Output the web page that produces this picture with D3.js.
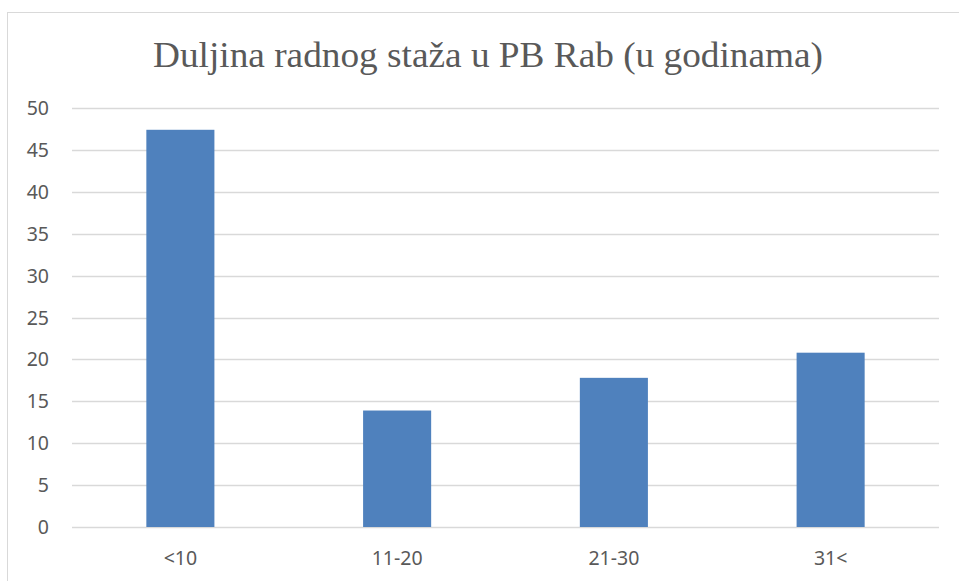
<!DOCTYPE html>
<html>
<head>
<meta charset="utf-8">
<script src="https://cdn.jsdelivr.net/npm/d3@7"></script>
<style>
  html, body { margin: 0; padding: 0; background: #fff; }
  svg { display: block; }
</style>
</head>
<body>
<div id="chart"></div>
<script>
// podaci
const categories = ["<10", "11-20", "21-30", "31<"];
const values = [47.4, 13.9, 17.8, 20.8];
const yTicks = [0, 5, 10, 15, 20, 25, 30, 35, 40, 45, 50];
const title = "Duljina radnog staža u PB Rab (u godinama)";

const width = 959, height = 581;
const margin = { top: 108, right: 20, bottom: 54, left: 72 };

const svg = d3.select("#chart").append("svg")
    .attr("width", width)
    .attr("height", height);

// okvir grafikona
svg.append("rect")
    .attr("x", 7.5).attr("y", 12.5)
    .attr("width", width + 10).attr("height", height + 10)
    .attr("fill", "#fff")
    .attr("stroke", "#d9d9d9")
    .attr("stroke-width", 1);

const x = d3.scaleBand()
    .domain(categories)
    .range([margin.left, 939])
    .paddingInner(0.686)
    .paddingOuter(0.343);

const y = d3.scaleLinear()
    .domain([0, 50])
    .range([527, 108]);

// mreža
svg.append("g")
    .selectAll("line")
    .data(yTicks)
    .join("line")
    .attr("x1", margin.left)
    .attr("x2", 939)
    .attr("y1", d => Math.round(y(d)) + 0.5)
    .attr("y2", d => Math.round(y(d)) + 0.5)
    .attr("stroke", "#d9d9d9")
    .attr("stroke-width", 1.3);

// stupci
svg.append("g")
    .selectAll("rect")
    .data(values)
    .join("rect")
    .attr("x", (d, i) => x(categories[i]))
    .attr("width", x.bandwidth())
    .attr("y", d => y(d))
    .attr("height", d => y(0) - y(d))
    .attr("fill", "#4f81bd");

// oznake osi y
svg.append("g")
    .attr("font-family", "Noto Sans, Open Sans, sans-serif")
    .attr("font-size", 19.5)
    .attr("fill", "#595959")
    .attr("text-anchor", "end")
    .selectAll("text")
    .data(yTicks)
    .join("text")
    .attr("x", 49)
    .attr("y", d => y(d))
    .attr("dy", "0.36em")
    .text(d => d);

// oznake osi x
svg.append("g")
    .attr("font-family", "Noto Sans, Open Sans, sans-serif")
    .attr("font-size", 19.5)
    .attr("fill", "#595959")
    .attr("text-anchor", "middle")
    .selectAll("text")
    .data(categories)
    .join("text")
    .attr("x", d => x(d) + x.bandwidth() / 2)
    .attr("y", 565)
    .text(d => d);

// naslov
svg.append("text")
    .attr("x", 488)
    .attr("y", 67)
    .attr("text-anchor", "middle")
    .attr("font-family", "Liberation Serif, Times New Roman, serif")
    .attr("font-size", 36)
    .attr("fill", "#595959")
    .attr("textLength", 670)
    .attr("lengthAdjust", "spacingAndGlyphs")
    .text(title);
</script>
</body>
</html>
